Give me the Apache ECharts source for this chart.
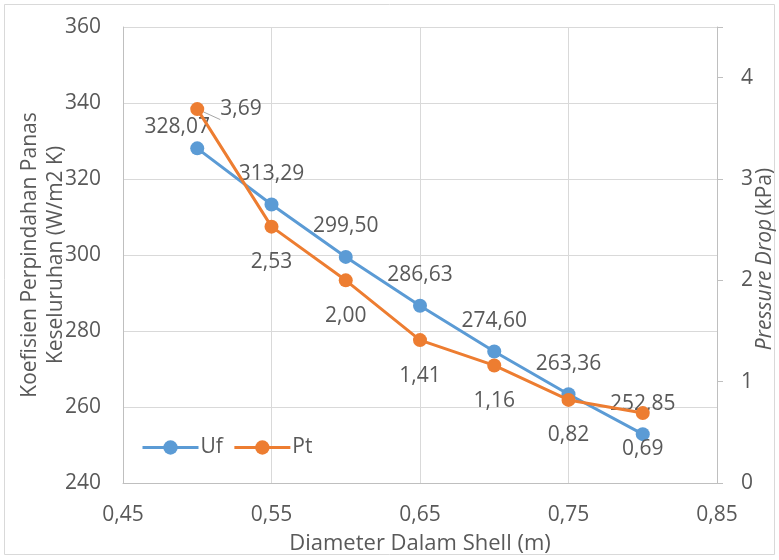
<!DOCTYPE html>
<html>
<head>
<meta charset="utf-8">
<script src="https://cdn.jsdelivr.net/npm/echarts@6/dist/echarts.min.js"></script>
<style>
  html, body { margin: 0; padding: 0; background: #fff; }
  #chart { width: 779px; height: 560px; }
</style>
</head>
<body>
<div id="chart"></div>
<script>
// Shell inner diameter (m)
var diameters = [0.50, 0.55, 0.60, 0.65, 0.70, 0.75, 0.80];
// Overall heat transfer coefficient Uf (W/m2 K)
var ufValues = [328.07, 313.29, 299.50, 286.63, 274.60, 263.36, 252.85];
// Pressure drop Pt (kPa)
var ptValues = [3.69, 2.53, 2.00, 1.41, 1.16, 0.82, 0.69];

var FONT = 'Open Sans';
var TXT = '#595959';
var BLUE = '#5B9BD5';
var ORANGE = '#ED7D31';
var FS = 21;

function comma(v, d) { return Number(v).toFixed(d).replace('.', ','); }

var ufData = diameters.map(function (x, i) {
  var item = { value: [x, ufValues[i]] };
  if (i === 0) item.label = { offset: [-20, 9] };
  return item;
});
var ptData = diameters.map(function (x, i) {
  var item = { value: [x, ptValues[i]] };
  if (i === 0) {
    item.label = { position: 'right', distance: 16 };
    item.labelLine = { show: true, lineStyle: { color: '#A6A6A6', width: 1 } };
  }
  return item;
});

var chart = echarts.init(document.getElementById('chart'));
chart.setOption({
  animation: false,
  backgroundColor: '#fff',
  textStyle: { fontFamily: FONT },
  grid: { left: 123, right: 62, top: 27, bottom: 77 },
  legend: {
    left: 136, top: 432,
    itemWidth: 56, itemHeight: 18, itemGap: 10,
    lineStyle: { width: 3 },
    textStyle: { color: TXT, fontSize: FS, fontFamily: FONT, padding: [0, 0, 0, -3] },
    data: ['Uf', 'Pt']
  },
  xAxis: {
    type: 'value', min: 0.45, max: 0.85, interval: 0.1,
    axisLine: { show: true, lineStyle: { color: '#BFBFBF', width: 1 } },
    axisTick: { show: false },
    splitLine: { show: true, lineStyle: { color: '#D9D9D9', width: 1 } },
    axisLabel: { color: TXT, fontSize: FS, fontFamily: FONT, margin: 22,
      formatter: function (v) { return comma(v, 2); } }
  },
  yAxis: [{
    type: 'value', min: 240, max: 360, interval: 20,
    axisLine: { show: true, lineStyle: { color: '#BFBFBF', width: 1 } },
    axisTick: { show: false },
    splitLine: { show: true, lineStyle: { color: '#D9D9D9', width: 1 } },
    axisLabel: { color: TXT, fontSize: FS, fontFamily: FONT, margin: 22 }
  }, {
    type: 'value', min: 0, max: 4.5, interval: 1, position: 'right',
    axisLine: { show: true, lineStyle: { color: '#BFBFBF', width: 1 } },
    axisTick: { show: true, length: 6, lineStyle: { color: '#BFBFBF' } },
    splitLine: { show: false },
    axisLabel: { color: TXT, fontSize: FS, fontFamily: FONT, margin: 24,
      formatter: function (v) { return Number.isInteger(v) ? String(v) : ''; } }
  }],
  series: [{
    name: 'Uf', type: 'line', yAxisIndex: 0, data: ufData,
    color: BLUE,
    symbol: 'circle', symbolSize: 14,
    lineStyle: { width: 3, color: BLUE },
    itemStyle: { color: BLUE },
    label: { show: true, position: 'top', distance: 13, color: TXT, fontSize: FS, fontFamily: FONT,
      formatter: function (p) { return comma(p.value[1], 2); } },
    z: 2
  }, {
    name: 'Pt', type: 'line', yAxisIndex: 1, data: ptData,
    color: ORANGE,
    symbol: 'circle', symbolSize: 14,
    lineStyle: { width: 3, color: ORANGE },
    itemStyle: { color: ORANGE },
    label: { show: true, position: 'bottom', distance: 18, color: TXT, fontSize: FS, fontFamily: FONT,
      formatter: function (p) { return comma(p.value[1], 2); } },
    z: 3
  }],
  graphic: [{
    type: 'rect', z: -1,
    shape: { x: 4.5, y: 4.5, width: 770, height: 550 },
    style: { fill: null, stroke: '#D9D9D9', lineWidth: 1 }
  }, {
    type: 'text', x: 30, y: 255, rotation: Math.PI / 2,
    style: { text: 'Koefisien Perpindahan Panas', fill: TXT,
      font: '21px "Open Sans"', align: 'center', verticalAlign: 'middle' }
  }, {
    type: 'text', x: 56, y: 255, rotation: Math.PI / 2,
    style: { text: 'Keseluruhan (W/m2 K)', fill: TXT,
      font: '21px "Open Sans"', align: 'center', verticalAlign: 'middle' }
  }, {
    type: 'text', x: 765, y: 259, rotation: Math.PI / 2,
    style: {
      text: '{i|Pressure Drop} {n|(kPa)}', align: 'center', verticalAlign: 'middle',
      rich: {
        i: { fill: TXT, fontSize: 21, fontFamily: FONT, fontStyle: 'italic' },
        n: { fill: TXT, fontSize: 21, fontFamily: FONT }
      }
    }
  }, {
    type: 'text', x: 420, y: 544,
    style: { text: 'Diameter Dalam Shell (m)', fill: TXT, font: '22px "Open Sans"',
      align: 'center', verticalAlign: 'middle' }
  }]
});
</script>
</body>
</html>
